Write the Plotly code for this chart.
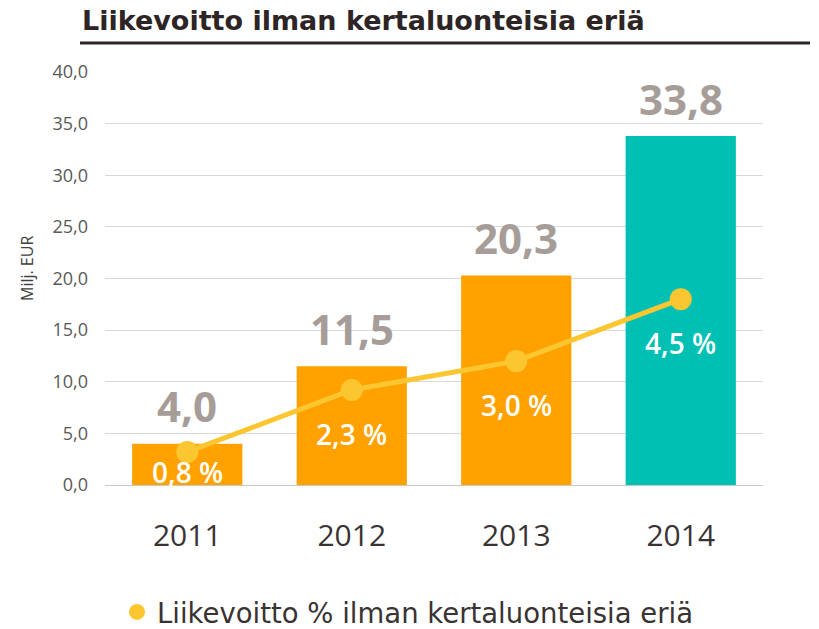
import plotly.graph_objects as go

years = ["2011", "2012", "2013", "2014"]
profit = [4.0, 11.5, 20.3, 33.8]
profit_labels = ["4,0", "11,5", "20,3", "33,8"]
margin_pct = [0.8, 2.3, 3.0, 4.5]
margin_labels = ["0,8 %", "2,3 %", "3,0 %", "4,5 %"]
y_ticks = [0, 5, 10, 15, 20, 25, 30, 35, 40]
y_tick_labels = ["0,0", "5,0", "10,0", "15,0", "20,0", "25,0", "30,0", "35,0", "40,0"]

title_text = "Liikevoitto ilman kertaluonteisia eriä"
legend_text = "Liikevoitto % ilman kertaluonteisia eriä"
y_title = "Milj. EUR"

ORANGE = "#FFA200"
TEAL = "#00BFB3"
YELLOW = "#FCC631"
bar_colors = [ORANGE, ORANGE, ORANGE, TEAL]

W, H = 819, 629
L, R, T, B = 105, 56, 72, 144
plot_h = H - T - B
plot_w = W - L - R
y2_max = 10.0
xpos = list(range(len(years)))

fig = go.Figure()
fig.add_trace(go.Bar(x=xpos, y=profit, marker=dict(color=bar_colors, line=dict(width=0)),
                     width=0.67, showlegend=False, hoverinfo="skip"))
fig.add_trace(go.Scatter(x=xpos, y=margin_pct, yaxis="y2", mode="lines",
                         line=dict(color=YELLOW, width=5), showlegend=False, hoverinfo="skip"))
fig.add_trace(go.Scatter(x=xpos, y=margin_pct, yaxis="y2", mode="markers",
                         marker=dict(color=YELLOW, size=22), name=legend_text, showlegend=True,
                         hoverinfo="skip"))

annotations = []
for xi, v, lab in zip(xpos, profit, profit_labels):
    annotations.append(dict(x=xi, y=v, xref="x", yref="y", text=lab, showarrow=False,
                            yanchor="middle", yshift=38,
                            font=dict(family="Open Sans", size=42, color="#A69D98", weight=700)))
for xi, p, lab in zip(xpos, margin_pct, margin_labels):
    pt_px = p / y2_max * plot_h  # height above bottom in px
    shift = -min(44, pt_px - 13)
    annotations.append(dict(x=xi, y=p, xref="x", yref="y2", text=lab, showarrow=False,
                            yanchor="middle", yshift=shift,
                            font=dict(family="Open Sans", size=28, color="white", weight=600)))
# title
annotations.append(dict(x=(80 - L) / plot_w, y=(H - B - 20) / plot_h, xref="paper", yref="paper",
                        xanchor="left", yanchor="middle", text=title_text, showarrow=False,
                        font=dict(family="DejaVu Sans", size=27, color="#2D2525", weight=700)))
# y axis title
annotations.append(dict(x=(27 - L) / plot_w, y=(H - B - 269) / plot_h, xref="paper", yref="paper",
                        text=y_title, textangle=-90, showarrow=False, xanchor="center",
                        yanchor="middle",
                        font=dict(family="Open Sans", size=16, color="#404040")))

shapes = [dict(type="line", xref="paper", yref="paper",
               x0=(80 - L) / plot_w, x1=(810 - L) / plot_w,
               y0=(H - B - 43) / plot_h, y1=(H - B - 43) / plot_h,
               line=dict(color="#2D2525", width=3))]

fig.update_layout(
    width=W, height=H,
    margin=dict(l=L, r=R, t=T, b=B, autoexpand=False),
    paper_bgcolor="white", plot_bgcolor="white",
    hovermode=False,
    xaxis=dict(range=[-0.5, len(years) - 0.5], tickvals=xpos, ticktext=years,
               showgrid=False, showline=True, linecolor="#C8C8C8", linewidth=1, zeroline=False,
               ticks="", automargin=False, fixedrange=True,
               tickfont=dict(family="Open Sans", size=30, color="#3A3333"),
               ticklabelstandoff=24),
    yaxis=dict(range=[0, 40], tickvals=y_ticks, ticktext=y_tick_labels, showgrid=True,
               gridcolor="#D9D9D9", gridwidth=1, zeroline=False, showline=False, ticks="",
               automargin=False, fixedrange=True,
               tickfont=dict(family="Open Sans", size=18, color="#595959"),
               ticklabelstandoff=16),
    yaxis2=dict(range=[0, y2_max], overlaying="y", side="right", visible=False, fixedrange=True),
    legend=dict(orientation="h", x=(117 - L) / plot_w, xanchor="left",
                y=(H - B - 612) / plot_h, yanchor="middle",
                font=dict(family="DejaVu Sans", size=27.5, color="#3A3333"),
                bgcolor="rgba(0,0,0,0)"),
    annotations=annotations, shapes=shapes,
    font=dict(family="Open Sans"),
)

fig.write_html("out.html", config={"displayModeBar": False},
               post_script="document.body.style.margin='0';")
